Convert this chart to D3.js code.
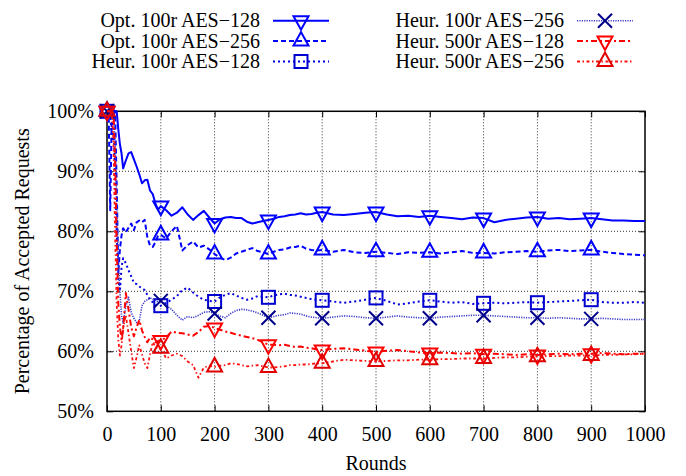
<!DOCTYPE html>
<html><head><meta charset="utf-8">
<script src="https://cdn.jsdelivr.net/npm/d3@7"></script>
<style>
body{margin:0;background:#fff}
svg text{font-family:"Liberation Serif","Times New Roman",serif;fill:#000}
</style></head><body>
<svg id="chart" width="686" height="476"></svg>
<script>
// Simulation rounds at which acceptance was sampled
const rounds = [0,3,6,9,12,15,18,21,24,27,30,
  35,40,45,50,55,60,65,70,75,80,85,90,95,100,
  110,120,130,140,150,160,170,180,190,200,
  210,220,230,240,250,260,270,280,290,300,
  310,320,330,340,350,360,370,380,390,400,
  420,440,460,480,500,520,540,560,580,600,
  620,640,660,680,700,720,740,760,780,800,
  820,840,860,880,900,920,940,960,980,1000];

// Percentage of accepted requests per configuration
const opt128 = [100,100,100,100,100,100,100,97,94.5,93,90.5,
  91.8,93,93.2,92,90.8,89.5,88,88.5,88.6,86.8,86.2,84.6,83.6,84.2,
  83.5,82.6,83.1,84,82.8,81.9,82.7,83.4,82.3,81.3,
  82,82.3,82.4,82.2,82.2,81.6,81.3,81.5,81.7,81.9,
  82.1,82.4,82.5,82.7,82.8,83,82.8,82.9,83.1,83.2,
  82.8,82.7,82.9,83.1,83.2,82.8,82.5,82.6,82.4,82.6,
  82.4,82.2,82.0,82.3,82.2,81.5,81.9,82.1,82.3,82.4,
  82.1,82.2,82.0,82.1,82.2,82.0,81.8,81.8,81.7,81.7];

const opt256 = [100,100,83.5,100,100,100,88,73,77,79.3,80.5,
  79.8,80.6,81.3,80.2,81.5,81.8,81.5,81.9,79,77.6,77.4,78.2,79.3,79.4,
  78.8,80,80.9,76.8,77.7,78.3,77.3,77.6,77,76.2,
  75.6,75.2,75.6,76.3,76.6,76.9,77.2,76.7,76.5,76.2,
  76.6,76.9,77,77.3,77.4,77.6,77.1,76.9,76.8,76.9,
  76.6,76.9,76.5,76.4,76.6,76.4,76.2,76.5,76.4,76.5,
  76.3,76.5,76.7,76.4,76.4,76.3,76.5,76.6,76.7,76.6,
  76.8,76.9,76.7,76.8,76.9,76.6,76.4,76.2,76.1,76];

const heur100r128 = [100,100,100,95,100,88,80,72,70,74,75.5,
  74.7,73.5,72.5,71.4,71.2,70.8,70.5,70.2,69.4,68.5,68.2,67.8,67.5,67.6,
  68.1,68.6,69.2,70.2,70.6,69.8,69.1,68.6,68.4,68.3,
  69,69.4,69.7,69.3,68.9,68.6,68.8,69.2,69.1,69,
  69.3,69.5,69.6,69.4,69.3,69.1,68.9,68.7,68.6,68.5,
  68.3,68.1,68.3,68.6,68.9,68.4,67.8,68.0,68.3,68.5,
  68.3,68.1,68.2,67.9,68.0,68.1,68.0,68.1,68.2,68.1,
  68.2,68.3,68.4,68.5,68.6,68.2,68.1,68.1,68.2,68.1];

const heur100r256 = [100,100,100,100,100,95,85,75,70,66,64.7,
  67.5,69,66.5,65.5,64.8,65,67.6,68.3,68.6,68.9,68.7,68.5,68.2,68.4,
  67.6,67,66,65.2,65.8,65.6,66,66.5,66.6,66.3,
  65.9,65.6,66.3,66.8,67,66.9,66.7,66.4,66,65.6,
  65.8,66,66.1,66.4,66.3,66.2,65.9,65.7,65.6,65.5,
  65.7,65.9,65.8,65.6,65.5,65.7,65.9,65.7,65.6,65.5,
  65.7,65.8,65.9,66,66,65.9,65.8,65.7,65.6,65.6,
  65.5,65.6,65.5,65.4,65.4,65.5,65.4,65.3,65.3,65.3];

const heur500r128 = [100,100,100,100,100,92,78,68,64,62,63.5,
  69.7,67,64,62.5,64,65.2,63.5,62.4,61.5,62.3,62,61.5,61.7,61.8,
  62.3,63.3,63.1,63,62.8,62.6,63.2,64.1,64.2,63.9,
  63.6,63.3,63.1,62.8,62.6,62.4,62.2,61.9,61.5,61.1,
  61.1,61.0,61.1,60.9,60.7,60.8,60.6,60.5,60.3,60.2,
  60.4,60.5,60.3,60.1,59.9,60.1,60.2,60.0,59.8,59.7,
  59.8,59.7,59.6,59.7,59.5,59.6,59.5,59.4,59.5,59.4,
  59.5,59.6,59.5,59.6,59.6,59.7,59.6,59.5,59.6,59.6];

const heur500r256 = [100,100,100,100,95,80,68,62,59.3,61,64,
  66,63,60,57.2,59,61,59.5,58,57.2,59.5,61.5,60.8,60.3,60.5,
  58.8,59.3,59.6,59.2,58.3,57.7,55.6,57.3,57.6,57.4,
  57.6,57.7,58,57.9,57.7,57.5,57.6,57.7,57.5,57.3,
  57.3,57.4,57.5,57.7,57.7,57.8,57.8,57.9,58,58,
  58.3,58.6,58.5,58.4,58.3,58.4,58.5,58.5,58.6,58.6,
  58.7,58.7,58.8,58.8,58.8,58.9,59.0,59.0,59.1,59.1,
  59.2,59.2,59.3,59.3,59.3,59.4,59.4,59.5,59.5,59.6];

const seriesNames = ["Opt. 100r AES\u2212128","Opt. 100r AES\u2212256","Heur. 100r AES\u2212128",
  "Heur. 100r AES\u2212256","Heur. 500r AES\u2212128","Heur. 500r AES\u2212256"];
const xTicks = [0,100,200,300,400,500,600,700,800,900,1000];
const yTicks = [50,60,70,80,90,100];
const markerRounds = [0,100,200,300,400,500,600,700,800,900];

const series = [
  {name:seriesNames[0], values:opt128,      color:"#0000ff", lineColor:"#0000ff", width:2,   dash:null,            marker:"down"},
  {name:seriesNames[1], values:opt256,      color:"#0000ff", lineColor:"#0000ff", width:2,   dash:"5,3",           marker:"up"},
  {name:seriesNames[2], values:heur100r128, color:"#0000d0", lineColor:"#0000e0", width:2,   dash:"2,3",           marker:"square"},
  {name:seriesNames[3], values:heur100r256, color:"#00008b", lineColor:"#3a3ac8", width:1.6, dash:"1.2,1.2",       marker:"cross"},
  {name:seriesNames[4], values:heur500r128, color:"#ff0000", lineColor:"#ff0000", width:2,   dash:"6,3,2,3",       marker:"down"},
  {name:seriesNames[5], values:heur500r256, color:"#e00000", lineColor:"#ff1010", width:1.8, dash:"3,2.5,1.5,2.5", marker:"up"}
];

const svg = d3.select("#chart");
const x = d3.scaleLinear().domain([0,1000]).range([107,645]);
const y = d3.scaleLinear().domain([50,100]).range([411.3,111.3]);
const [x0,x1] = x.range(), [y0,y1] = y.range();

// Dotted grid
const grid = svg.append("g");
grid.selectAll("line.gx").data(xTicks.slice(1,-1)).join("line")
  .attr("x1",d=>x(d)).attr("x2",d=>x(d)).attr("y1",y0).attr("y2",y1)
  .attr("stroke","#000").attr("stroke-width",0.8).attr("stroke-dasharray","1,2");
grid.selectAll("line.gy").data(yTicks.slice(1,-1)).join("line")
  .attr("x1",x0).attr("x2",x1).attr("y1",d=>y(d)).attr("y2",d=>y(d))
  .attr("stroke","#000").attr("stroke-width",0.8).attr("stroke-dasharray","1,2");

// Axes with inward ticks on all four sides
const fs = "20px";
const axB = svg.append("g").attr("transform",`translate(0,${y0})`)
  .call(d3.axisBottom(x).tickValues(xTicks).tickSize(-6).tickPadding(16).tickFormat(d3.format("d")));
const axT = svg.append("g").attr("transform",`translate(0,${y1})`)
  .call(d3.axisTop(x).tickValues(xTicks).tickSize(-6).tickFormat(""));
const axL = svg.append("g").attr("transform",`translate(${x0},0)`)
  .call(d3.axisLeft(y).tickValues(yTicks).tickSize(-6).tickPadding(13).tickFormat(d=>d+"%"));
const axR = svg.append("g").attr("transform",`translate(${x1},0)`)
  .call(d3.axisRight(y).tickValues(yTicks).tickSize(-6).tickFormat(""));
[axB,axT,axL,axR].forEach(a=>{
  a.select(".domain").remove();
  a.selectAll(".tick line").attr("stroke","#000").attr("stroke-width",1);
  a.selectAll("text").style("font-size",fs).style("font-family","'Liberation Serif',serif").attr("fill","#000");
});
axB.selectAll("text").attr("dy","0.71em");
svg.append("rect").attr("x",x0).attr("y",y1).attr("width",x1-x0).attr("height",y0-y1)
  .attr("fill","none").attr("stroke","#000").attr("stroke-width",1.5);

// Axis titles
svg.append("text").attr("x",(x0+x1)/2).attr("y",470).attr("text-anchor","middle")
  .style("font-size",fs).text("Rounds");
svg.append("text").attr("transform",`translate(29,${(y0+y1)/2}) rotate(-90)`).attr("text-anchor","middle")
  .style("font-size",fs).text("Percentage of Accepted Requests");

// Marker shapes
function drawMarker(g, type, cx, cy, color){
  const common = s => s.attr("fill","none").attr("stroke",color).attr("stroke-width",2).attr("stroke-linejoin","miter");
  if(type==="down"){
    g.append("path").attr("d",`M${cx-7.5},${cy-4.5}L${cx+7.5},${cy-4.5}L${cx},${cy+9}Z`).call(common);
  } else if(type==="up"){
    g.append("path").attr("d",`M${cx-7.5},${cy+4.5}L${cx+7.5},${cy+4.5}L${cx},${cy-9}Z`).call(common);
  } else if(type==="square"){
    g.append("rect").attr("x",cx-6.5).attr("y",cy-6.5).attr("width",13).attr("height",13).call(common);
  } else {
    g.append("path").attr("d",`M${cx-7},${cy-7}L${cx+7},${cy+7}M${cx-7},${cy+7}L${cx+7},${cy-7}`).call(common);
  }
}

// Series lines and point markers
const line = d3.line().x(d=>x(d[0])).y(d=>y(d[1]));
const plot = svg.append("g");
series.forEach(s=>{
  const pts = rounds.map((r,i)=>[r,s.values[i]]);
  plot.append("path").attr("d",line(pts)).attr("fill","none")
    .attr("stroke",s.lineColor).attr("stroke-width",s.width)
    .attr("stroke-dasharray",s.dash).attr("stroke-linejoin","round");
  const mg = plot.append("g");
  markerRounds.forEach(r=>{
    const i = rounds.indexOf(r);
    drawMarker(mg, s.marker, x(r), y(s.values[i]), s.color);
  });
});

// Legend
const legendCols = [{textX:260, lineX0:273, lineX1:329}, {textX:564, lineX0:577, lineX1:633}];
const legendRows = [20.7, 41, 61.5];
series.forEach((s,i)=>{
  const c = legendCols[Math.floor(i/3)], ry = legendRows[i%3];
  const g = svg.append("g");
  g.append("text").attr("x",c.textX).attr("y",ry+6.5).attr("text-anchor","end")
    .style("font-size",fs).text(s.name);
  g.append("line").attr("x1",c.lineX0).attr("x2",c.lineX1).attr("y1",ry).attr("y2",ry)
    .attr("stroke",s.lineColor).attr("stroke-width",s.width).attr("stroke-dasharray",s.dash);
  drawMarker(g, s.marker, (c.lineX0+c.lineX1)/2, ry, s.color);
});
</script>
</body></html>
